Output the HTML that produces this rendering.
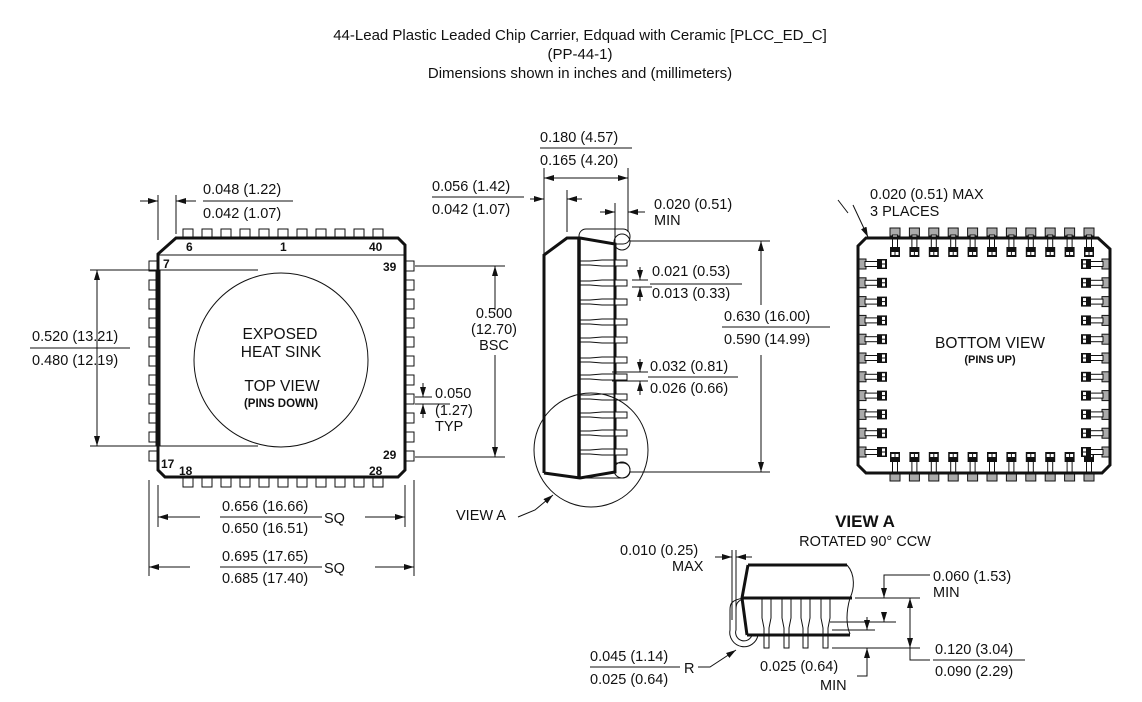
<!DOCTYPE html>
<html><head><meta charset="utf-8"><style>
html,body{margin:0;padding:0;background:#fff}
svg{display:block}
text{font-family:"Liberation Sans",Arial,sans-serif;fill:#111}
</style></head><body>
<svg width="1142" height="702" viewBox="0 0 1142 702" xmlns="http://www.w3.org/2000/svg">
<defs>
<marker id="a" viewBox="0 0 10 6" refX="10" refY="3" markerWidth="10" markerHeight="6" orient="auto" markerUnits="userSpaceOnUse"><path d="M0,0L10,3L0,6z" fill="#111"/></marker>
<rect id="ph" width="10" height="9" fill="#fff" stroke="#111" stroke-width="1"/>
<rect id="pv" width="9" height="10" fill="#fff" stroke="#111" stroke-width="1"/>
<g id="bt"><rect x="0" y="-9" width="10" height="8" fill="#aaa" stroke="#111"/><rect x="2.5" y="-2" width="5" height="13" fill="#fff" stroke="#111"/><rect x="0" y="10" width="10" height="10" fill="#111"/><rect x="1.5" y="15" width="3" height="3" fill="#fff"/><rect x="5.5" y="15" width="3" height="3" fill="#fff"/></g>
<g id="bb"><rect x="0" y="9" width="10" height="8" fill="#aaa" stroke="#111"/><rect x="2.5" y="-3" width="5" height="13" fill="#fff" stroke="#111"/><rect x="0" y="-12" width="10" height="10" fill="#111"/><rect x="1.5" y="-10" width="3" height="3" fill="#fff"/><rect x="5.5" y="-10" width="3" height="3" fill="#fff"/></g>
<g id="bl"><rect x="-9" y="0" width="8" height="10" fill="#aaa" stroke="#111"/><rect x="-2" y="2.5" width="13" height="5" fill="#fff" stroke="#111"/><rect x="10" y="0" width="10" height="10" fill="#111"/><rect x="15" y="1.5" width="3" height="3" fill="#fff"/><rect x="15" y="5.5" width="3" height="3" fill="#fff"/></g>
<g id="br"><rect x="9" y="0" width="8" height="10" fill="#aaa" stroke="#111"/><rect x="-3" y="2.5" width="13" height="5" fill="#fff" stroke="#111"/><rect x="-12" y="0" width="10" height="10" fill="#111"/><rect x="-10" y="1.5" width="3" height="3" fill="#fff"/><rect x="-10" y="5.5" width="3" height="3" fill="#fff"/></g>
<g id="ld"><path d="M579,-2h11M579,2h11M590,-2l12,-1h13M590,2l12,1h13" stroke="#111" stroke-width="1" fill="none"/><rect x="615" y="-3" width="12" height="6" fill="#fff" stroke="#111"/></g>
</defs>

<g font-size="15" text-anchor="middle">
<text x="580" y="40">44-Lead Plastic Leaded Chip Carrier, Edquad with Ceramic [PLCC_ED_C]</text>
<text x="580" y="59">(PP-44-1)</text>
<text x="580" y="78">Dimensions shown in inches and (millimeters)</text>
</g>

<!-- TOP VIEW -->
<g>
<use href="#ph" x="183" y="229"/><use href="#ph" x="202" y="229"/><use href="#ph" x="221" y="229"/><use href="#ph" x="240" y="229"/><use href="#ph" x="259" y="229"/><use href="#ph" x="278" y="229"/><use href="#ph" x="297" y="229"/><use href="#ph" x="316" y="229"/><use href="#ph" x="335" y="229"/><use href="#ph" x="354" y="229"/><use href="#ph" x="373" y="229"/>
<use href="#ph" x="183" y="478"/><use href="#ph" x="202" y="478"/><use href="#ph" x="221" y="478"/><use href="#ph" x="240" y="478"/><use href="#ph" x="259" y="478"/><use href="#ph" x="278" y="478"/><use href="#ph" x="297" y="478"/><use href="#ph" x="316" y="478"/><use href="#ph" x="335" y="478"/><use href="#ph" x="354" y="478"/><use href="#ph" x="373" y="478"/>
<use href="#pv" x="149" y="261"/><use href="#pv" x="149" y="280"/><use href="#pv" x="149" y="299"/><use href="#pv" x="149" y="318"/><use href="#pv" x="149" y="337"/><use href="#pv" x="149" y="356"/><use href="#pv" x="149" y="375"/><use href="#pv" x="149" y="394"/><use href="#pv" x="149" y="413"/><use href="#pv" x="149" y="432"/><use href="#pv" x="149" y="451"/>
<use href="#pv" x="405" y="261"/><use href="#pv" x="405" y="280"/><use href="#pv" x="405" y="299"/><use href="#pv" x="405" y="318"/><use href="#pv" x="405" y="337"/><use href="#pv" x="405" y="356"/><use href="#pv" x="405" y="375"/><use href="#pv" x="405" y="394"/><use href="#pv" x="405" y="413"/><use href="#pv" x="405" y="432"/><use href="#pv" x="405" y="451"/>
<path d="M176,238H398L405,245V470L398,477H165L158,470V254Z" fill="#fff" stroke="#111" stroke-width="3"/>
<line x1="158" y1="255" x2="405" y2="255" stroke="#111" stroke-width="1"/>
<line x1="158" y1="270" x2="158" y2="446" stroke="#111" stroke-width="5"/>
<line x1="90" y1="270" x2="258" y2="270" stroke="#111"/>
<line x1="90" y1="446" x2="258" y2="446" stroke="#111"/>
<circle cx="281" cy="360" r="87" fill="none" stroke="#111" stroke-width="1"/>
<g font-size="12" font-weight="bold">
<text x="186" y="251">6</text><text x="280" y="251">1</text><text x="369" y="251">40</text>
<text x="163" y="268">7</text><text x="383" y="271">39</text>
<text x="161" y="468">17</text><text x="179" y="475">18</text><text x="383" y="459">29</text><text x="369" y="475">28</text>
</g>
<g text-anchor="middle">
<text x="280" y="339" font-size="15.5">EXPOSED</text>
<text x="281" y="357" font-size="15.5">HEAT SINK</text>
<text x="282" y="391" font-size="15.5">TOP VIEW</text>
<text x="281" y="407" font-size="11.5" font-weight="bold">(PINS DOWN)</text>
</g>
</g>
<!-- top-view dims -->
<g stroke="#111" stroke-width="1" fill="none">
<line x1="158" y1="195" x2="158" y2="240"/><line x1="176" y1="195" x2="176" y2="234"/>
<line x1="140" y1="201" x2="158" y2="201" marker-end="url(#a)"/>
<line x1="196" y1="201" x2="176" y2="201" marker-end="url(#a)"/>
<line x1="203" y1="201" x2="293" y2="201"/>
<line x1="97" y1="290" x2="97" y2="270" marker-end="url(#a)"/><line x1="97" y1="420" x2="97" y2="446" marker-end="url(#a)"/>
<line x1="97" y1="290" x2="97" y2="420"/>
<line x1="30" y1="348" x2="130" y2="348"/>
<line x1="415" y1="266" x2="505" y2="266"/><line x1="415" y1="457" x2="505" y2="457"/>
<line x1="495" y1="300" x2="495" y2="266" marker-end="url(#a)"/><line x1="495" y1="420" x2="495" y2="457" marker-end="url(#a)"/>
<line x1="495" y1="300" x2="495" y2="310"/><line x1="495" y1="355" x2="495" y2="420"/>
<line x1="415" y1="397" x2="432" y2="397"/><line x1="415" y1="404" x2="432" y2="404"/>
<line x1="423" y1="383" x2="423" y2="397" marker-end="url(#a)"/><line x1="423" y1="418" x2="423" y2="404" marker-end="url(#a)"/>
<line x1="432" y1="404" x2="450" y2="404"/>
<line x1="158" y1="485" x2="158" y2="527"/><line x1="405" y1="485" x2="405" y2="527"/>
<line x1="149" y1="480" x2="149" y2="576"/><line x1="414" y1="480" x2="414" y2="576"/>
<line x1="200" y1="517" x2="158" y2="517" marker-end="url(#a)"/><line x1="365" y1="517" x2="405" y2="517" marker-end="url(#a)"/>
<line x1="220" y1="517" x2="322" y2="517"/>
<line x1="190" y1="567" x2="149" y2="567" marker-end="url(#a)"/><line x1="375" y1="567" x2="414" y2="567" marker-end="url(#a)"/>
<line x1="220" y1="567" x2="322" y2="567"/>
</g>
<g font-size="14.5">
<text x="203" y="194">0.048 (1.22)</text><text x="203" y="218">0.042 (1.07)</text>
<text x="32" y="341">0.520 (13.21)</text><text x="32" y="365">0.480 (12.19)</text>
<text x="494" y="318" text-anchor="middle">0.500</text><text x="494" y="334" text-anchor="middle">(12.70)</text><text x="494" y="350" text-anchor="middle">BSC</text>
<text x="435" y="398">0.050</text><text x="435" y="415">(1.27)</text><text x="435" y="431">TYP</text>
<text x="222" y="511">0.656 (16.66)</text><text x="222" y="533">0.650 (16.51)</text><text x="324" y="523">SQ</text>
<text x="222" y="561">0.695 (17.65)</text><text x="222" y="583">0.685 (17.40)</text><text x="324" y="573">SQ</text>
</g>

<!-- SIDE VIEW -->
<g stroke="#111" fill="none">
<rect x="579" y="229" width="51" height="15" rx="7" stroke-width="1"/>
<rect x="579" y="463" width="51" height="15" rx="7" stroke-width="1"/>
<circle cx="622" cy="242" r="8" stroke-width="1"/>
<circle cx="622" cy="470" r="8" stroke-width="1"/>
<path d="M544,473V255L567,238H580L615,244V472L580,478L544,473" fill="#fff" stroke-width="3"/>
<line x1="579" y1="238" x2="579" y2="478" stroke-width="3.5"/>
</g>
<use href="#ld" y="263"/><use href="#ld" y="283"/><use href="#ld" y="302"/><use href="#ld" y="322"/><use href="#ld" y="340"/><use href="#ld" y="360"/><use href="#ld" y="377"/><use href="#ld" y="397"/><use href="#ld" y="415"/><use href="#ld" y="433"/><use href="#ld" y="452"/>
<circle cx="591" cy="450" r="57" fill="none" stroke="#111" stroke-width="1"/>
<g stroke="#111" stroke-width="1" fill="none">
<line x1="544" y1="168" x2="544" y2="255"/><line x1="628" y1="168" x2="628" y2="232"/>
<line x1="570" y1="178" x2="544" y2="178" marker-end="url(#a)"/><line x1="600" y1="178" x2="628" y2="178" marker-end="url(#a)"/>
<line x1="570" y1="178" x2="600" y2="178"/>
<line x1="540" y1="148" x2="632" y2="148"/>
<line x1="567" y1="190" x2="567" y2="232"/>
<line x1="530" y1="199" x2="544" y2="199" marker-end="url(#a)"/><line x1="582" y1="199" x2="567" y2="199" marker-end="url(#a)"/>
<line x1="432" y1="197" x2="524" y2="197"/>
<line x1="615" y1="203" x2="615" y2="244"/>
<line x1="600" y1="212" x2="615" y2="212" marker-end="url(#a)"/><line x1="645" y1="212" x2="628" y2="212" marker-end="url(#a)"/>
<line x1="630" y1="241" x2="770" y2="241"/><line x1="630" y1="472" x2="770" y2="472"/>
<line x1="761" y1="270" x2="761" y2="241" marker-end="url(#a)"/><line x1="761" y1="440" x2="761" y2="472" marker-end="url(#a)"/>
<line x1="761" y1="270" x2="761" y2="305"/><line x1="761" y1="355" x2="761" y2="440"/>
<line x1="722" y1="327" x2="830" y2="327"/>
<line x1="632" y1="280" x2="648" y2="280"/><line x1="632" y1="287" x2="652" y2="287"/>
<line x1="640" y1="267" x2="640" y2="280" marker-end="url(#a)"/><line x1="640" y1="301" x2="640" y2="287" marker-end="url(#a)"/>
<line x1="650" y1="284" x2="742" y2="284"/>
<line x1="612" y1="372" x2="648" y2="372"/><line x1="612" y1="381" x2="648" y2="381"/>
<line x1="640" y1="359" x2="640" y2="372" marker-end="url(#a)"/><line x1="640" y1="395" x2="640" y2="381" marker-end="url(#a)"/>
<line x1="648" y1="377" x2="738" y2="377"/>
<path d="M518,517L535,510L553,495" marker-end="url(#a)"/>
<path d="M838,200L848,213" /><path d="M853,205L868,237" marker-end="url(#a)"/>
</g>
<g font-size="14.5">
<text x="540" y="142">0.180 (4.57)</text><text x="540" y="165">0.165 (4.20)</text>
<text x="432" y="191">0.056 (1.42)</text><text x="432" y="214">0.042 (1.07)</text>
<text x="654" y="209">0.020 (0.51)</text><text x="654" y="225">MIN</text>
<text x="652" y="276">0.021 (0.53)</text><text x="652" y="298">0.013 (0.33)</text>
<text x="650" y="371">0.032 (0.81)</text><text x="650" y="393">0.026 (0.66)</text>
<text x="724" y="321">0.630 (16.00)</text><text x="724" y="344">0.590 (14.99)</text>
<text x="456" y="520">VIEW A</text>
<text x="870" y="199">0.020 (0.51) MAX</text><text x="870" y="216">3 PLACES</text>
</g>

<!-- BOTTOM VIEW -->
<g>
<use href="#bt" x="890" y="237"/><use href="#bt" x="909.4" y="237"/><use href="#bt" x="928.8" y="237"/><use href="#bt" x="948.2" y="237"/><use href="#bt" x="967.6" y="237"/><use href="#bt" x="987" y="237"/><use href="#bt" x="1006.4" y="237"/><use href="#bt" x="1025.8" y="237"/><use href="#bt" x="1045.2" y="237"/><use href="#bt" x="1064.6" y="237"/><use href="#bt" x="1084" y="237"/>
<use href="#bb" x="890" y="464"/><use href="#bb" x="909.4" y="464"/><use href="#bb" x="928.8" y="464"/><use href="#bb" x="948.2" y="464"/><use href="#bb" x="967.6" y="464"/><use href="#bb" x="987" y="464"/><use href="#bb" x="1006.4" y="464"/><use href="#bb" x="1025.8" y="464"/><use href="#bb" x="1045.2" y="464"/><use href="#bb" x="1064.6" y="464"/><use href="#bb" x="1084" y="464"/>
<use href="#bl" x="867" y="259"/><use href="#bl" x="867" y="277.8"/><use href="#bl" x="867" y="296.6"/><use href="#bl" x="867" y="315.4"/><use href="#bl" x="867" y="334.2"/><use href="#bl" x="867" y="353"/><use href="#bl" x="867" y="371.8"/><use href="#bl" x="867" y="390.6"/><use href="#bl" x="867" y="409.4"/><use href="#bl" x="867" y="428.2"/><use href="#bl" x="867" y="447"/>
<use href="#br" x="1093" y="259"/><use href="#br" x="1093" y="277.8"/><use href="#br" x="1093" y="296.6"/><use href="#br" x="1093" y="315.4"/><use href="#br" x="1093" y="334.2"/><use href="#br" x="1093" y="353"/><use href="#br" x="1093" y="371.8"/><use href="#br" x="1093" y="390.6"/><use href="#br" x="1093" y="409.4"/><use href="#br" x="1093" y="428.2"/><use href="#br" x="1093" y="447"/>
<path d="M866,238H1098L1110,249V465L1102,473H866L858,465V246Z" fill="none" stroke="#111" stroke-width="3"/>
<text x="990" y="348" font-size="15.5" text-anchor="middle">BOTTOM VIEW</text>
<text x="990" y="363" font-size="11" font-weight="bold" text-anchor="middle">(PINS UP)</text>
</g>

<!-- VIEW A -->
<text x="865" y="527" font-size="17" font-weight="bold" text-anchor="middle">VIEW  A</text>
<text x="865" y="546" font-size="14.5" text-anchor="middle">ROTATED 90° CCW</text>
<g stroke="#111" fill="none">
<path d="M748,565H847" stroke-width="3"/>
<path d="M847,565C856,575 854,590 850,598" stroke-width="1"/>
<path d="M850,598C846,612 846,625 850,634" stroke-width="1"/>
<path d="M748,565L742,598L747,635" stroke-width="3"/>
<path d="M742,598H852M747,635H850" stroke-width="3"/>
<path d="M744,598C730,600 730,605 730,610V630A14,14 0 0 0 758,635" stroke-width="1"/>
<path d="M747,598C736,600 736,605 736,610V630A8,8 0 0 0 752,635" stroke-width="1"/>
<path d="M762,598v20l2,10v20h5v-20l2,-10v-20M782,598v20l2,10v20h5v-20l2,-10v-20M801,598v20l2,10v20h5v-20l2,-10v-20M821,598v20l2,10v20h5v-20l2,-10v-20" stroke-width="1"/>
<line x1="732" y1="550" x2="732" y2="620" stroke-width="1"/><line x1="736" y1="550" x2="736" y2="620" stroke-width="1"/>
<line x1="715" y1="557" x2="732" y2="557" marker-end="url(#a)" stroke-width="1"/><line x1="752" y1="557" x2="736" y2="557" marker-end="url(#a)" stroke-width="1"/>
<g stroke-width="1">
<line x1="855" y1="598" x2="920" y2="598"/><line x1="830" y1="622" x2="896" y2="622"/>
<line x1="832" y1="630" x2="875" y2="630"/><line x1="832" y1="648" x2="920" y2="648"/>
<line x1="884" y1="582" x2="884" y2="598" marker-end="url(#a)"/><line x1="884" y1="612" x2="884" y2="622" marker-end="url(#a)"/>
<path d="M884,582V575H930"/>
<line x1="867" y1="617" x2="867" y2="630" marker-end="url(#a)"/><line x1="867" y1="665" x2="867" y2="648" marker-end="url(#a)"/>
<path d="M867,665V676H857"/>
<line x1="910" y1="615" x2="910" y2="598" marker-end="url(#a)"/><line x1="910" y1="632" x2="910" y2="648" marker-end="url(#a)"/>
<path d="M910,615V632M910,648V660H930"/>
<line x1="933" y1="660" x2="1025" y2="660"/>
<line x1="590" y1="667" x2="680" y2="667"/>
<path d="M698,667H710L736,650" marker-end="url(#a)"/>
</g>
</g>
<g font-size="14.5">
<text x="620" y="555">0.010 (0.25)</text><text x="672" y="571">MAX</text>
<text x="933" y="581">0.060 (1.53)</text><text x="933" y="597">MIN</text>
<text x="935" y="654">0.120 (3.04)</text><text x="935" y="676">0.090 (2.29)</text>
<text x="760" y="671">0.025 (0.64)</text><text x="820" y="690">MIN</text>
<text x="590" y="661">0.045 (1.14)</text><text x="590" y="684">0.025 (0.64)</text><text x="684" y="673">R</text>
</g>
</svg>
</body></html>
